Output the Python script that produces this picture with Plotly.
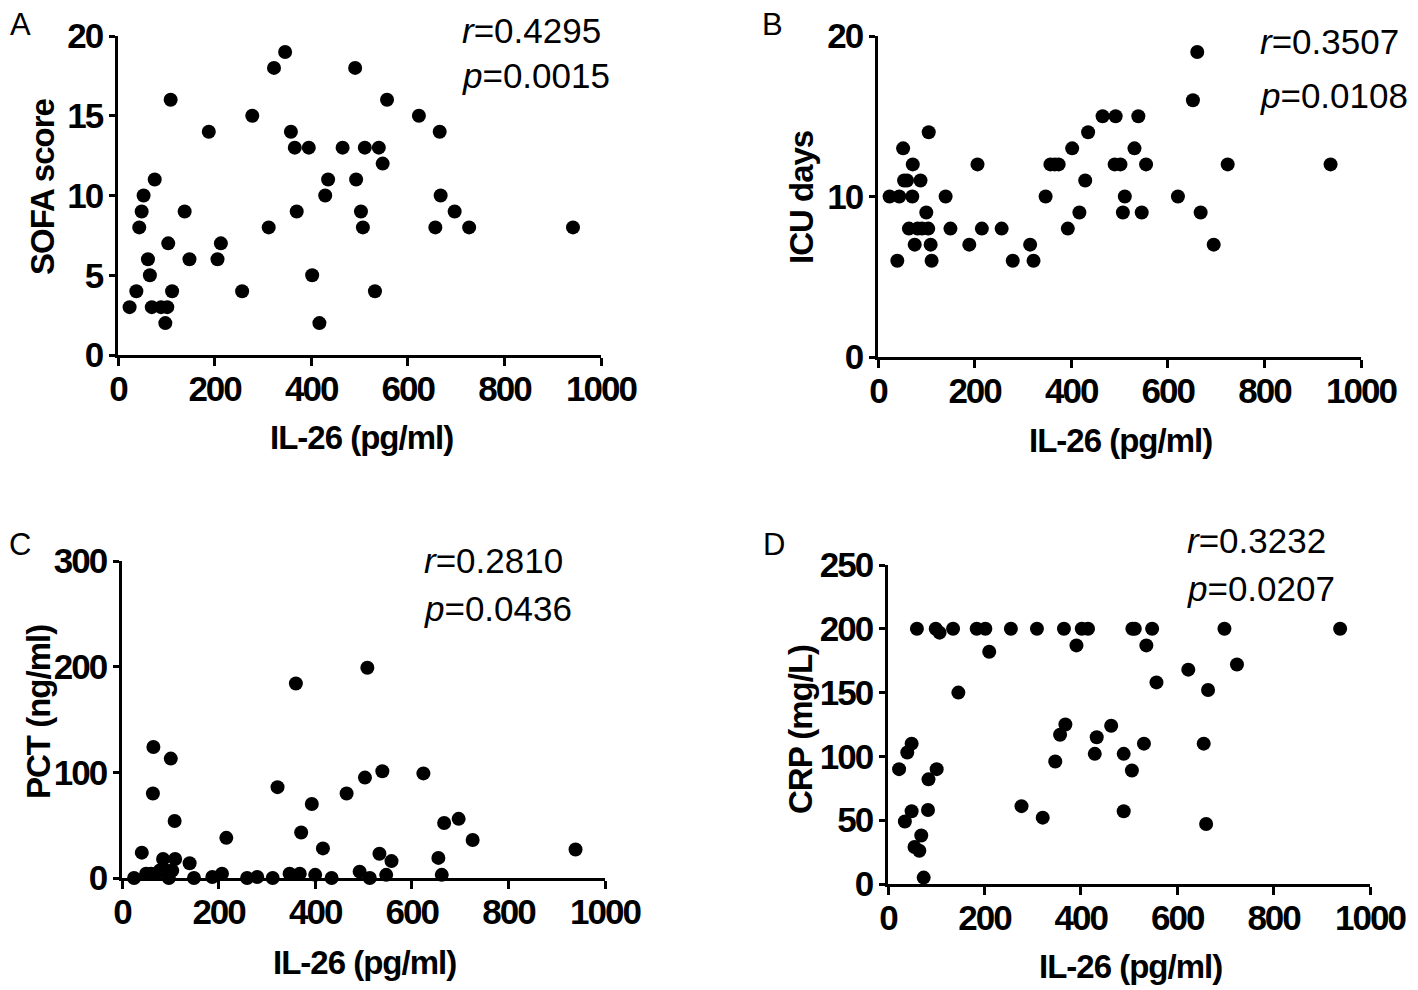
import plotly.graph_objects as go

# ---------------- data ----------------
sofa_x = [24, 38, 44, 49, 53, 62, 66, 70, 76, 89, 98, 102, 104, 109, 112, 138, 148, 188, 206, 213,
          257, 278, 312, 323, 346, 358, 366, 370, 395, 402, 417, 429, 435, 465, 491, 493, 503, 507,
          511, 532, 540, 548, 557, 623, 657, 666, 668, 697, 727, 942]
sofa_y = [3, 4, 8, 9, 10, 6, 5, 3, 11, 3, 2, 3, 7, 16, 4, 9, 6, 14, 6, 7,
          4, 15, 8, 18, 19, 14, 13, 9, 13, 5, 2, 10, 11, 13, 18, 11, 9, 8,
          13, 4, 13, 12, 16, 15, 8, 14, 10, 9, 8, 8]

icu_x = [24, 40, 44, 52, 54, 60, 64, 71, 72, 76, 82, 88, 91, 100, 104, 105, 109, 111, 140, 150,
         189, 206, 215, 256, 279, 315, 322, 347, 357, 366, 374, 393, 402, 417, 429, 435, 465, 492,
         490, 502, 507, 511, 531, 539, 546, 555, 621, 652, 661, 668, 695, 724, 937]
icu_y = [10, 6, 10, 13, 11, 11, 8, 10, 12, 7, 8, 11, 8, 9, 8, 14, 7, 6, 10, 8,
         7, 12, 8, 8, 6, 7, 6, 10, 12, 12, 12, 8, 13, 9, 11, 14, 15, 15,
         12, 12, 9, 10, 13, 15, 9, 12, 10, 16, 19, 9, 7, 12, 12]

pct_x = [25, 41, 50, 60, 65, 64, 71, 78, 85, 91, 97, 101, 104, 110, 109, 140, 149, 187, 207, 216,
         259, 280, 312, 322, 347, 360, 368, 371, 393, 400, 416, 434, 465, 492, 503, 508, 513, 533,
         539, 547, 558, 624, 655, 662, 667, 697, 726, 939]
pct_y = [0, 24, 4, 4, 124, 80, 4, 7, 18, 7, 0, 113, 7, 18, 54, 14, 0, 1, 4, 38,
         0, 1, 0, 86, 4, 184, 4, 43, 70, 3, 28, 0, 80, 6, 95, 199, 0, 23,
         101, 3, 16, 99, 19, 3, 52, 56, 36, 27]

crp_x = [23, 35, 40, 49, 49, 55, 60, 69, 65, 74, 83, 84, 99, 101, 107, 135, 146, 184, 202, 210,
         255, 309, 277, 321, 347, 357, 368, 365, 391, 402, 415, 429, 433, 463, 489, 489, 507, 506,
         512, 531, 536, 548, 557, 623, 655, 664, 660, 698, 724, 938]
crp_y = [90, 49, 103, 110, 57, 29, 200, 38, 26, 5, 58, 82, 200, 90, 197, 200, 150, 200, 200, 182,
         200, 200, 61, 52, 96, 117, 125, 200, 187, 200, 200, 102, 115, 124, 102, 57, 200, 89,
         200, 110, 187, 200, 158, 168, 110, 152, 47, 200, 172, 200]

x_ticks = [0, 200, 400, 600, 800, 1000]
x_title = "IL-26 (pg/ml)"

# page offset (body margin) compensation
OFF = 8
W, H = 1418 - OFF, 990 - OFF

def fx(px):
    return (px - OFF) / W

def fy(py):
    return 1 - (py - OFF) / H

def tight(s, sp=-2):
    return '<span style="letter-spacing:%dpx">%s</span>' % (sp, s)

# panel geometry in pixels of the target picture: (x_left, x_right, y_bottom, y_top)
panels = [
    dict(x=sofa_x, y=sofa_y, px=(118, 601, 355, 36), yr=[0, 20], yt=[0, 5, 10, 15, 20],
         ytitle="SOFA score", letter="A", r="0.4295", p="0.0015"),
    dict(x=icu_x, y=icu_y, px=(878, 1361, 357, 36), yr=[0, 20], yt=[0, 10, 20],
         ytitle="ICU days", letter="B", r="0.3507", p="0.0108"),
    dict(x=pct_x, y=pct_y, px=(122, 605, 878, 561), yr=[0, 300], yt=[0, 100, 200, 300],
         ytitle="PCT (ng/ml)", letter="C", r="0.2810", p="0.0436"),
    dict(x=crp_x, y=crp_y, px=(888, 1370, 884, 565), yr=[0, 250], yt=[0, 50, 100, 150, 200, 250],
         ytitle="CRP (mg/L)", letter="D", r="0.3232", p="0.0207"),
]

fig = go.Figure()
layout = dict(width=W, height=H, margin=dict(l=0, r=0, t=0, b=0, autoexpand=False),
              paper_bgcolor="white", plot_bgcolor="white", showlegend=False)
annotations = []

tick_font = dict(family="Liberation Sans, Arial, sans-serif", size=35, color="black", weight="bold")
title_font = dict(family="Liberation Sans, Arial, sans-serif", size=33, color="black", weight="bold")
stat_font = dict(family="Liberation Sans, Arial, sans-serif", size=35, color="black")
letter_font = dict(family="Liberation Sans, Arial, sans-serif", size=31, color="black")

# text positions (pixels of the target picture)
letter_pos = [(20, 24), (772, 24), (20, 544), (774, 544)]
stat_pos = [(460, 30, 75), (1258, 42, 96), (422, 560, 608), (1185, 540, 588)]
xtitle_pos = [(362, 438), (1120, 440), (365, 962), (1130, 966)]
ytitle_pos = [(42, 187), (802, 198), (38, 712), (800, 730)]

for i, pn in enumerate(panels):
    k = "" if i == 0 else str(i + 1)
    xl, xr, yb, yt_ = pn["px"]
    fig.add_trace(go.Scatter(
        x=pn["x"], y=pn["y"], mode="markers",
        marker=dict(size=14, color="black"),
        xaxis="x" + k, yaxis="y" + k, cliponaxis=False, hoverinfo="skip"))
    axis_common = dict(showgrid=False, zeroline=False, showline=True, linecolor="black",
                       linewidth=2.5, ticks="outside", tickwidth=2.5, tickcolor="black",
                       tickfont=tick_font, fixedrange=True, automargin=False)
    layout["xaxis" + k] = dict(axis_common, domain=[fx(xl), fx(xr)], range=[0, 1000],
                               tickvals=x_ticks, ticktext=[tight(v) for v in x_ticks],
                               ticklen=8, ticklabelstandoff=-7, anchor="y" + k)
    layout["yaxis" + k] = dict(axis_common, domain=[fy(yb), fy(yt_)], range=pn["yr"],
                               tickvals=pn["yt"], ticktext=[tight(v) for v in pn["yt"]],
                               ticklen=6, anchor="x" + k)
    lx, ly = letter_pos[i]
    annotations.append(dict(text=pn["letter"], x=fx(lx), y=fy(ly), xref="paper", yref="paper",
                            showarrow=False, font=letter_font, xanchor="center", yanchor="middle"))
    sx, sy1, sy2 = stat_pos[i]
    annotations.append(dict(text="<i>r</i>=" + pn["r"], x=fx(sx), y=fy(sy1), xref="paper",
                            yref="paper", showarrow=False, font=stat_font, xanchor="left",
                            yanchor="middle"))
    annotations.append(dict(text="<i>p</i>=" + pn["p"], x=fx(sx), y=fy(sy2), xref="paper",
                            yref="paper", showarrow=False, font=stat_font, xanchor="left",
                            yanchor="middle"))
    tx, ty = xtitle_pos[i]
    annotations.append(dict(text=tight(x_title, -1), x=fx(tx), y=fy(ty), xref="paper", yref="paper",
                            showarrow=False, font=title_font, xanchor="center", yanchor="middle"))
    vx, vy = ytitle_pos[i]
    annotations.append(dict(text=tight(pn["ytitle"], -1), x=fx(vx), y=fy(vy), xref="paper",
                            yref="paper", showarrow=False, font=title_font, textangle=-90,
                            xanchor="center", yanchor="middle"))

layout["annotations"] = annotations
fig.update_layout(**layout)
fig.write_html("out.html")
